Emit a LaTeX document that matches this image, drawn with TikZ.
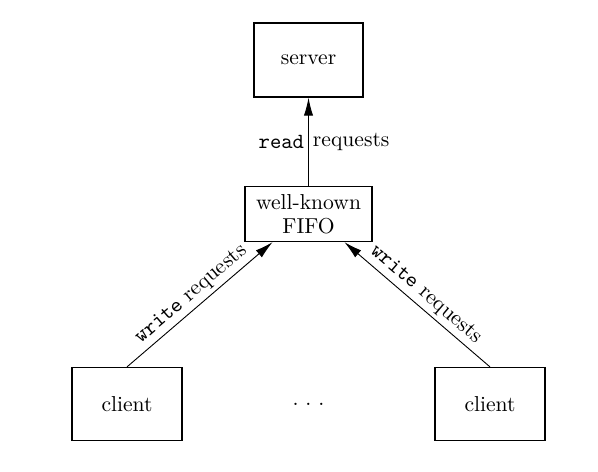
\documentclass[tikz,border=0pt]{standalone}
\usetikzlibrary{calc}
\usetikzlibrary{arrows.meta}
\tikzset{
  box/.style = {draw=black, line width=0.6pt, minimum width=#1, inner sep=2pt, align=center},
  req/.style = {color=black, line width=0.45pt, -{Latex[length=9pt, width=4.6pt]}},
  lbl/.style = {inner sep=2pt}
}

\begin{document}
\begin{tikzpicture}[x=0.5pt, y=0.5pt, font=\fontsize{10.8}{12}\selectfont]

    % Frame
    \useasboundingbox (0,0) rectangle (598,471);

    % Boxes
    \node[box=54.5pt, minimum height=37pt] (server) at (308.5,411) {server};
    \node[box=63.5pt, minimum height=27.5pt] (fifo) at (308.5,257) {well-known\\FIFO};
    \node[box=55pt, minimum height=36.5pt] (clientA) at (127,67) {client};
    \node[box=55pt, minimum height=36.5pt] (clientB) at (490,67) {client};
    \node (dots) at (308.5,67) {.\hspace{3.4pt}.\hspace{3.4pt}.};

    % Coordinates
    \coordinate (fifoL) at ($(fifo.south west)!0.22!(fifo.south east)$);
    \coordinate (fifoR) at ($(fifo.south west)!0.78!(fifo.south east)$);

    % Requests
    \draw[req] (fifo) -- (server)
      node[lbl, midway, left] {\texttt{read}}
      node[lbl, midway, right] {requests};
    \draw[req] (clientA.north) -- (fifoL)
      node[lbl, midway, sloped, above] {\texttt{write} requests};
    \draw[req] (clientB.north) -- (fifoR)
      node[lbl, midway, sloped, above] {\texttt{write} requests};

\end{tikzpicture}
\end{document}
